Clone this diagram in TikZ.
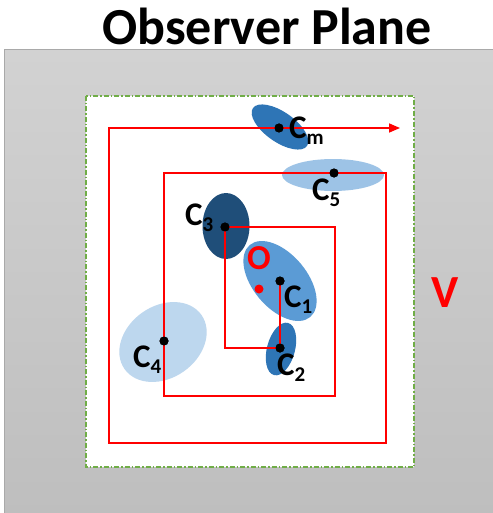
\documentclass[tikz,border=0pt]{standalone}
\usepackage{fontspec}
\setmainfont{Carlito}
\usetikzlibrary{arrows.meta,positioning,calc}
\definecolor{PlaneTop}{HTML}{D2D2D2}
\definecolor{PlaneBot}{HTML}{BEBEBE}
\definecolor{PlaneEdge}{HTML}{A9A9A9}
\definecolor{Frame}{HTML}{70AD47}
\definecolor{Path}{HTML}{FF0000}
\definecolor{BlueMid}{HTML}{2E75B6}
\definecolor{BlueDark}{HTML}{1F4E79}
\definecolor{BlueSoft}{HTML}{5B9BD5}
\definecolor{BlueLight}{HTML}{9DC3E6}
\definecolor{BluePale}{HTML}{BDD7EE}
\newcommand{\cname}[1]{C\raisebox{-6pt}{\fontsize{21}{23}\selectfont #1}}
\tikzset{
  dot/.style={circle, fill=black, inner sep=0pt, minimum size=9pt},
  lbl/.style={inner sep=0pt, font=\fontsize{33}{38}\selectfont\bfseries},
  spiral/.style={Path, line width=1.6pt, line join=miter},
}

\begin{document}
\begin{tikzpicture}[x=1pt,y=-1pt]
    \useasboundingbox (0,0) rectangle (492,513);
    % observer plane
    \shade[top color=PlaneTop, bottom color=PlaneBot] (4.5,50) rectangle (495,516);
    \draw[PlaneEdge, line width=1pt] (4.5,516) -- (4.5,50) -- (495,50);
    \fill[white] (86,96) rectangle (414,467);
    \draw[Frame, line width=1.3pt, dash pattern=on 5pt off 2pt on 1.5pt off 2pt] (86,96) rectangle (414,467);
    \node[font=\fontsize{52}{58}\selectfont\bfseries, anchor=base] (title) at (267,45) {Observer Plane};
    % clusters
    \fill[BlueMid, rotate around={-35:(280,127)}] (280,127) ellipse [x radius=33, y radius=15];
    \fill[BlueLight] (333,175) ellipse [x radius=51, y radius=16];
    \fill[BlueDark] (226,226) ellipse [x radius=23.5, y radius=33];
    \fill[BlueSoft, rotate around={-50:(280,281)}] (280,281) ellipse [x radius=47, y radius=27];
    \fill[BlueMid, rotate around={75:(281,349)}] (281,349) ellipse [x radius=27, y radius=14];
    \fill[BluePale, rotate around={35:(163,342)}] (163,342) ellipse [x radius=47, y radius=36];
    % centres
    \node[dot] (c1) at (280,281) {};
    \node[dot] (c2) at (280,348) {};
    \node[dot] (c3) at (225,227) {};
    \node[dot] (c4) at (164,341) {};
    \node[dot] (c5) at (334,173) {};
    \node[dot] (cm) at (279,128) {};
    \node[dot, fill=Path] (o) at (259,289) {};
    \coordinate (t1) at (335,227);
    \coordinate (t2) at (335,396);
    \coordinate (t5) at (386,173);
    \coordinate (t6) at (386,443);
    \coordinate (t7) at (109,443);
    \coordinate (stop) at (400,128);
    % search path
    \draw[spiral, -{Triangle[length=11pt,width=9pt]}]
      (c1.center) -- (c2.center) -- (c3 |- c2) -- (c3.center) -- (t1) -- (t2)
      -- (c4 |- t2) -- (c4.center) -- (c4 |- c5) -- (c5.center) -- (t5) -- (t6)
      -- (t7) -- (t7 |- cm) -- (cm.center) -- (stop);
    \node[dot] at (c1) {};
    \node[dot] at (c2) {};
    \node[dot] at (c3) {};
    \node[dot] at (c4) {};
    \node[dot] at (c5) {};
    \node[dot] at (cm) {};
    % labels
    \node[lbl, anchor=base west] (l1) at ([shift={(4,26)}]c1.center) {\cname{1}};
    \node[lbl, anchor=base west] (l2) at ([shift={(-3,27)}]c2.center) {\cname{2}};
    \node[lbl, anchor=base west] (l3) at ([shift={(-40,-2)}]c3.center) {\cname{3}};
    \node[lbl, anchor=base west] (l4) at ([shift={(-31,26)}]c4.center) {\cname{4}};
    \node[lbl, anchor=base west] (l5) at ([shift={(-22,27)}]c5.center) {\cname{5}};
    \node[lbl, anchor=base west] (lm) at ([shift={(10,11)}]cm.center) {\cname{m}};
    \node[lbl, text=Path, font=\fontsize{35}{40}\selectfont\bfseries, anchor=base] (lo) at ([shift={(0,-20)}]o.center) {O};
    \node[lbl, text=Path, font=\fontsize{46}{52}\selectfont\bfseries] (v) at (445,293) {V};
\end{tikzpicture}
\end{document}
